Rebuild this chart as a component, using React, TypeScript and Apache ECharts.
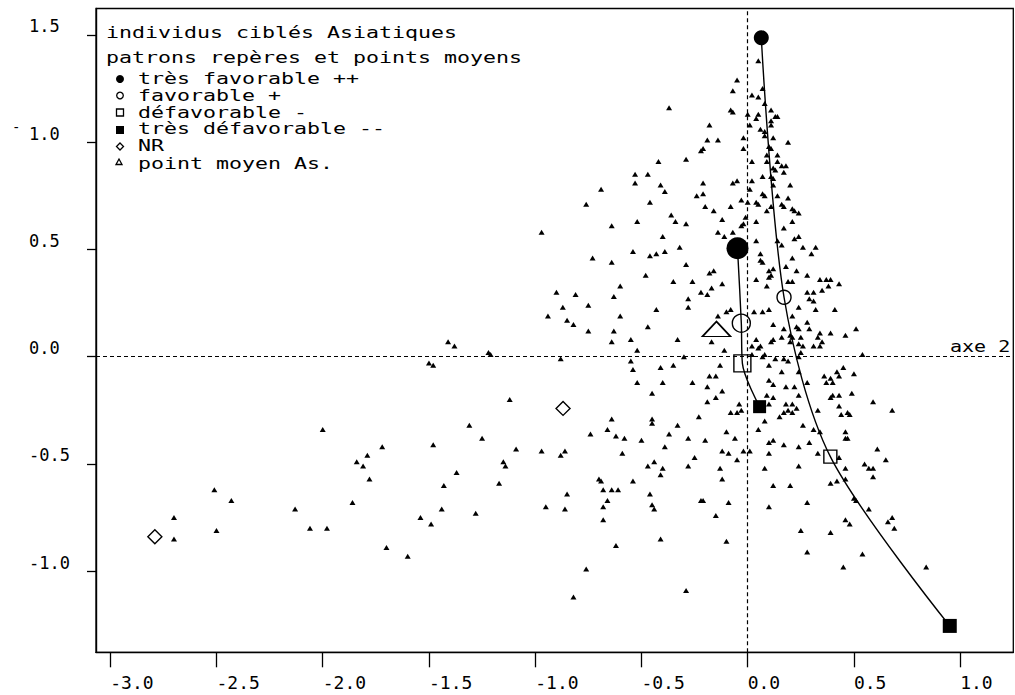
import React, { useEffect, useRef } from "react";
import * as echarts from "echarts";

// Axes
const xTicks = [-3.0, -2.5, -2.0, -1.5, -1.0, -0.5, 0.0, 0.5, 1.0];
const yTicks = [-1.0, -0.5, 0.0, 0.5, 1.0, 1.5];
const xRange = [-3.067, 1.25];
const yRange = [-1.378, 1.623];

// Individus ciblés (axe 1, axe 2)
const individus: number[][] = [
  [0.05,1.38],[-0.05,1.29],[-0.07,1.24],[0.02,1.22],[0.05,1.21],[0.07,1.25],[0.08,1.18],[-0.37,1.16],[-0.08,1.15],[-0.07,1.14],
  [0.00,1.13],[0.05,1.13],[0.11,1.15],[0.04,1.11],[0.01,1.08],[0.11,1.10],[0.13,1.12],[0.14,1.12],[0.11,1.08],[-0.18,1.08],
  [0.06,1.06],[0.08,1.05],[0.08,1.03],[0.12,1.02],[-0.19,1.01],[-0.14,1.01],[-0.02,1.02],[0.19,1.00],[-0.21,0.97],[-0.22,0.96],
  [-0.02,0.97],[0.10,0.98],[0.11,0.97],[0.09,0.94],[0.14,0.94],[-0.42,0.91],[-0.29,0.92],[0.02,0.91],[0.09,0.91],[0.14,0.91],
  [0.16,0.89],[0.18,0.89],[0.12,0.88],[0.13,0.87],[0.17,0.86],[-0.53,0.85],[-0.47,0.85],[-0.53,0.81],[0.07,0.84],[0.11,0.84],
  [0.12,0.83],[-0.05,0.82],[-0.07,0.81],[0.02,0.82],[-0.21,0.81],[-0.41,0.80],[-0.39,0.77],[0.12,0.80],[0.20,0.80],[0.01,0.78],
  [-0.69,0.78],[0.07,0.76],[0.08,0.75],[0.14,0.75],[0.19,0.74],[-0.24,0.75],[-0.21,0.76],[-0.46,0.72],[-0.03,0.73],[0.00,0.72],
  [0.04,0.72],[0.05,0.71],[0.16,0.71],[0.17,0.70],[-0.20,0.70],[-0.16,0.68],[-0.08,0.70],[0.09,0.68],[0.11,0.70],[0.21,0.69],
  [0.22,0.68],[0.24,0.67],[-0.36,0.66],[-0.34,0.63],[-0.29,0.62],[-0.12,0.64],[-0.01,0.65],[-0.02,0.62],[-0.03,0.61],[0.04,0.63],
  [0.21,0.63],[0.17,0.60],[-0.64,0.61],[-0.52,0.63],[-0.40,0.56],[-0.32,0.51],[-0.14,0.58],[-0.11,0.56],[0.04,0.54],[0.14,0.54],
  [0.16,0.52],[0.22,0.55],[0.24,0.56],[0.26,0.51],[0.32,0.51],[-0.07,0.58],
  [-0.54,0.49],[-0.46,0.47],[-0.43,0.48],[-0.39,0.49],[-0.29,0.43],[-0.64,0.44],[-0.48,0.38],[-0.35,0.35],[-0.26,0.35],[-0.18,0.39],
  [-0.16,0.40],[-0.12,0.34],[-0.22,0.30],[-0.19,0.29],[-0.17,0.32],[-0.60,0.33],[-0.63,0.28],[-0.28,0.27],[-0.43,0.22],[-0.28,0.23],
  [-0.60,0.19],[-0.47,0.14],[-0.63,0.12],[-0.55,0.08],[-0.64,0.07],[-0.52,0.03],[-0.33,0.08],[-0.17,0.07],[-0.14,0.19],[-0.10,0.21],
  [-0.08,0.22],[-0.11,0.03],[-0.30,0.00],[-0.55,-0.02],[-0.54,-0.06],[-0.41,-0.05],[-0.35,-0.04],[-0.13,-0.04],[-0.52,-0.12],[-0.40,-0.12],
  [-0.26,-0.12],[-0.45,-0.17],[-0.18,-0.09],[-0.15,-0.09],[-0.19,-0.14],[-0.12,-0.16],[-0.15,-0.19],[-0.19,-0.21],[-0.23,-0.28],[-0.04,-0.22],
  [-0.08,-0.26],[-0.05,-0.26],[-0.03,-0.25],[-0.45,-0.29],[-0.45,-0.31],[-0.33,-0.32],[-0.64,-0.29],[-0.66,-0.34],[-0.62,-0.37],[-0.58,-0.38],
  [-0.50,-0.39],[-0.37,-0.36],[-0.28,-0.38],[-0.20,-0.39],[-0.10,-0.35],[-0.06,-0.38],[-0.59,-0.45],[-0.39,-0.42],[-0.25,-0.47],[-0.12,-0.44],
  [-0.02,-0.44],[0.01,-0.44],[-0.05,-0.48],[-0.47,-0.51],[-0.44,-0.49],[-0.40,-0.52],[-0.28,-0.51],[-0.13,-0.52],[0.08,-0.52],
  [0.06,0.48],[0.07,0.44],[0.06,0.45],[0.10,0.40],[0.12,0.41],[0.21,0.46],[0.30,0.48],[0.18,0.42],[0.23,0.40],[0.28,0.38],
  [0.04,0.36],[0.10,0.37],[0.11,0.38],[0.19,0.35],[0.21,0.35],[0.34,0.36],[0.37,0.36],[0.39,0.36],[0.38,0.33],[0.35,0.31],
  [0.43,0.34],[0.09,0.33],[0.28,0.30],[0.31,0.30],[0.29,0.27],[0.31,0.26],[0.24,0.23],[0.32,0.22],[0.41,0.22],[0.03,0.21],
  [0.07,0.21],[0.10,0.22],[0.21,0.19],[0.28,0.16],[0.12,0.15],[0.17,0.13],[0.23,0.14],[0.24,0.13],[0.29,0.13],[0.34,0.11],
  [0.39,0.11],[0.46,0.10],[0.51,0.13],[0.20,0.10],[0.21,0.09],[0.20,0.07],[0.25,0.09],[0.24,0.06],[0.26,0.05],[0.12,0.08],
  [0.11,0.07],[0.16,0.09],[0.33,0.09],[0.35,0.07],[0.31,0.05],[0.34,0.05],[0.04,0.08],[0.02,0.05],[0.05,0.04],[0.06,0.05],
  [0.08,0.01],[0.07,0.00],[0.02,0.01],[0.25,0.02],[0.24,0.00],[0.54,0.01],[0.13,-0.01],[0.17,-0.01],[0.19,-0.02],[0.10,-0.04],
  [0.16,-0.07],[0.24,-0.07],[0.36,-0.09],[0.39,-0.10],[0.42,-0.07],[0.45,-0.05],[0.50,-0.08],[0.40,-0.12],[0.37,-0.12],[0.43,-0.09],
  [0.10,-0.11],[0.12,-0.13],[0.18,-0.14],[0.22,-0.14],[0.28,-0.12],[0.09,-0.18],[0.24,-0.18],[0.12,-0.19],[0.39,-0.19],[0.40,-0.18],
  [0.43,-0.18],[0.49,-0.17],[0.18,-0.22],[0.21,-0.22],[0.59,-0.21],[0.68,-0.25],[0.43,-0.23],[0.10,-0.22],[0.17,-0.26],[0.19,-0.25],
  [0.23,-0.24],[0.21,-0.26],[0.15,-0.28],[0.47,-0.26],[0.48,-0.27],[0.44,-0.27],[0.08,-0.30],[0.05,-0.34],[0.26,-0.32],[0.33,-0.25],
  [0.31,-0.34],[0.34,-0.35],[0.46,-0.35],[0.46,-0.38],[0.47,-0.38],[0.12,-0.39],[0.10,-0.40],[0.17,-0.41],[0.24,-0.42],[0.29,-0.40],
  [0.61,-0.43],[0.65,-0.48],[0.55,-0.50],[0.59,-0.52],[0.57,-0.52],[0.46,-0.52],[0.24,-0.51],[0.59,-0.56],
  [0.12,-0.60],[0.20,-0.60],[-0.46,-0.64],[-0.45,-0.69],[-0.44,-0.71],[-0.21,-0.67],[-0.22,-0.67],[-0.09,-0.68],[-0.15,-0.74],[-0.41,-0.85],
  [-0.10,-0.86],[-0.29,-1.09],[0.10,-0.70],[0.28,-0.68],[0.25,-0.81],[0.28,-0.91],[0.39,-0.82],[0.39,-0.59],[0.42,-0.58],[0.46,-0.57],
  [0.43,-0.47],[0.50,-0.66],[0.51,-0.67],[0.57,-0.71],[0.46,-0.76],[0.48,-0.78],[0.68,-0.75],[0.66,-0.77],[0.69,-0.80],[0.54,-0.92],
  [0.45,-0.98],[0.84,-0.98],[0.33,-0.45],[0.10,-0.45],[-0.09,-0.45],[-0.41,-0.55],[-0.12,-0.57],
  [-1.12,-0.20],[-1.31,-0.32],[-1.25,-0.38],[-1.72,-0.42],[-1.48,-0.41],[-1.09,-0.43],[-0.97,-0.44],[-0.86,-0.44],[-0.88,-0.46],[-0.74,-0.36],
  [-1.37,-0.54],[-1.43,-0.60],[-1.15,-0.49],[-1.14,-0.51],[-1.17,-0.59],[-0.70,-0.57],[-0.69,-0.58],[-0.54,-0.58],[-0.68,-0.62],[-0.64,-0.62],
  [-0.61,-0.62],[-0.85,-0.64],[-0.66,-0.67],[-0.68,-0.70],[-0.68,-0.76],[-1.44,-0.71],[-1.28,-0.73],[-0.95,-0.70],[-0.86,-0.71],[-1.54,-0.75],
  [-1.49,-0.78],[-1.70,-0.89],[-1.60,-0.93],[-0.62,-0.88],[-0.76,-0.99],[-0.82,-1.12],
  [-0.76,0.71],[-0.97,0.58],[-0.73,0.46],[-0.90,0.30],[-0.81,0.29],[-0.75,0.24],[-0.87,0.23],[-0.94,0.19],[-0.85,0.17],[-0.82,0.15],
  [-0.75,0.12],[-1.41,0.07],[-1.38,0.05],[-1.22,0.02],[-1.21,0.01],[-0.88,-0.01],[-1.50,-0.03],[-1.48,-0.04],
  [-2.00,-0.34],[-1.79,-0.46],[-1.84,-0.49],[-1.81,-0.51],[-1.78,-0.57],[-2.51,-0.62],[-2.43,-0.67],[-1.86,-0.68],[-2.13,-0.71],[-2.70,-0.75],
  [-2.50,-0.81],[-2.06,-0.80],[-1.98,-0.80],[-2.70,-0.85],
];

// Patrons repères: ++, +, -, -- (two curves)
const patronA: number[][] = [[0.064, 1.487], [0.171, 0.277], [0.389, -0.466], [0.951, -1.255]];
const patronB: number[][] = [[-0.048, 0.505], [-0.030, 0.156], [-0.025, -0.031], [0.056, -0.233]];
const nonReponse: number[][] = [[-0.869, -0.241], [-2.79, -0.839]];
const pointMoyen: number[][] = [[-0.147, 0.129]];

const legendTitle = ["individus ciblés Asiatiques", "patrons repères et points moyens"];
const legendItems = ["très favorable ++", "favorable +", "défavorable -", "très défavorable --", "NR", "point moyen As."];

const FONT = "DejaVu Sans Mono";

export default function App() {
  const ref = useRef<HTMLDivElement>(null);

  useEffect(() => {
    if (!ref.current) return;
    const chart = echarts.init(ref.current, null, { renderer: "svg" });
    const black = "#000";
    const clear = "rgba(0,0,0,0)";

    const sizesA = [15, 14, 13, 14];
    const sizesB = [22, 18, 17, 13];
    const markerSeries = (idx: number, symbol: string, filled: boolean) => ({
      type: "scatter",
      name: legendItems[idx],
      data: [patronA[idx], patronB[idx]],
      symbol,
      symbolSize: (_v: any, p: any) => (p.dataIndex === 0 ? sizesA[idx] : sizesB[idx]),
      itemStyle: { color: filled ? black : clear, borderColor: black, borderWidth: filled ? 0 : 1.4, opacity: 1 },
      z: 5,
      silent: true,
    });

    const legendText = (text: string, x: number, y: number) => ({
      type: "text",
      x,
      y,
      scaleX: 1.35,
      style: { text, fill: black, font: `16px "${FONT}"`, verticalAlign: "middle", align: "left" },
    });

    const itemYs = [78.5, 95.2, 112, 128.5, 145.2, 163];
    const symX = 120;

    const graphic: any[] = [
      legendText(legendTitle[0], 106, 32.5),
      legendText(legendTitle[1], 106, 57),
      ...legendItems.map((t, i) => legendText(t, 138, itemYs[i])),
      { type: "circle", shape: { cx: symX, cy: 79, r: 4 }, style: { fill: black } },
      { type: "circle", shape: { cx: symX, cy: 95.5, r: 3.3 }, style: { fill: clear, stroke: black, lineWidth: 1.3 } },
      { type: "rect", shape: { x: symX - 3.5, y: 109, width: 7, height: 7 }, style: { fill: clear, stroke: black, lineWidth: 1.3 } },
      { type: "rect", shape: { x: symX - 4, y: 126, width: 8, height: 8 }, style: { fill: black } },
      { type: "polygon", shape: { points: [[symX, 143], [symX + 3.5, 146.5], [symX, 150], [symX - 3.5, 146.5]] }, style: { fill: clear, stroke: black, lineWidth: 1.3 } },
      { type: "polygon", shape: { points: [[symX - 4, 164.5], [symX + 2, 164.5], [symX - 1, 159]] }, style: { fill: clear, stroke: black, lineWidth: 1.3 } },
      { type: "text", x: 950, y: 346, scaleX: 1.25, style: { text: "axe 2", fill: black, font: `16px "${FONT}"`, verticalAlign: "middle", align: "left" } },
      { type: "text", x: 12, y: 127, style: { text: "-", fill: black, font: `14px "${FONT}"`, verticalAlign: "middle", align: "left" } },
    ];

    const option: any = {
      animation: false,
      backgroundColor: "#fff",
      grid: { left: 96, right: 1.7, top: 8.5, bottom: 42.7, show: true, borderColor: black, borderWidth: 1.3, backgroundColor: "#fff" },
      xAxis: {
        type: "value",
        min: xRange[0],
        max: xRange[1],
        splitLine: { show: false },
        axisLine: { show: true, onZero: false, lineStyle: { color: black, width: 1.4 } },
        axisTick: { show: true, customValues: xTicks, length: 15, lineStyle: { color: black, width: 1.3 } },
        axisLabel: {
          show: true, customValues: xTicks, formatter: (v: number) => v.toFixed(1),
          align: "left", margin: 21, color: black, fontFamily: FONT, fontSize: 18,
        },
      },
      yAxis: {
        type: "value",
        min: yRange[0],
        max: yRange[1],
        splitLine: { show: false },
        axisLine: { show: true, onZero: false, lineStyle: { color: black, width: 1.4 } },
        axisTick: { show: true, customValues: yTicks, length: 9, lineStyle: { color: black, width: 1.3 } },
        axisLabel: {
          show: true, customValues: yTicks, formatter: (v: number) => v.toFixed(1),
          align: "left", verticalAlign: "bottom", margin: 67, color: black, fontFamily: FONT, fontSize: 17,
        },
      },
      graphic,
      series: [
        {
          type: "scatter",
          name: "individus",
          data: individus,
          symbol: "triangle",
          symbolSize: [6, 5],
          itemStyle: { color: black, opacity: 1 },
          z: 2,
          silent: true,
          markLine: {
            silent: true,
            symbol: ["none", "none"],
            label: { show: false },
            lineStyle: { color: black, type: [4, 3], width: 1.2, opacity: 1 },
            data: [{ xAxis: 0 }, { yAxis: 0 }],
          },
        },
        {
          type: "line", name: "patron A", data: patronA, smooth: 0.3, showSymbol: false,
          lineStyle: { color: black, width: 1.4 }, z: 3, silent: true,
        },
        {
          type: "line", name: "patron B", data: patronB, smooth: 0.3, showSymbol: false,
          lineStyle: { color: black, width: 1.4 }, z: 3, silent: true,
        },
        markerSeries(0, "circle", true),
        markerSeries(1, "circle", false),
        markerSeries(2, "rect", false),
        markerSeries(3, "rect", true),
        {
          type: "scatter", name: legendItems[4], data: nonReponse, symbol: "diamond", symbolSize: [14, 14],
          itemStyle: { color: clear, borderColor: black, borderWidth: 1.4, opacity: 1 }, z: 5, silent: true,
        },
        {
          type: "scatter", name: legendItems[5], data: pointMoyen, symbol: "triangle", symbolSize: [28, 15],
          itemStyle: { color: clear, borderColor: black, borderWidth: 1.6, opacity: 1 }, z: 5, silent: true,
        },
      ],
    };

    chart.setOption(option);
    return () => chart.dispose();
  }, []);

  return (
    <div
      ref={ref}
      style={{ position: "absolute", left: 0, top: 0, width: 1015, height: 695, background: "#fff" }}
    />
  );
}
